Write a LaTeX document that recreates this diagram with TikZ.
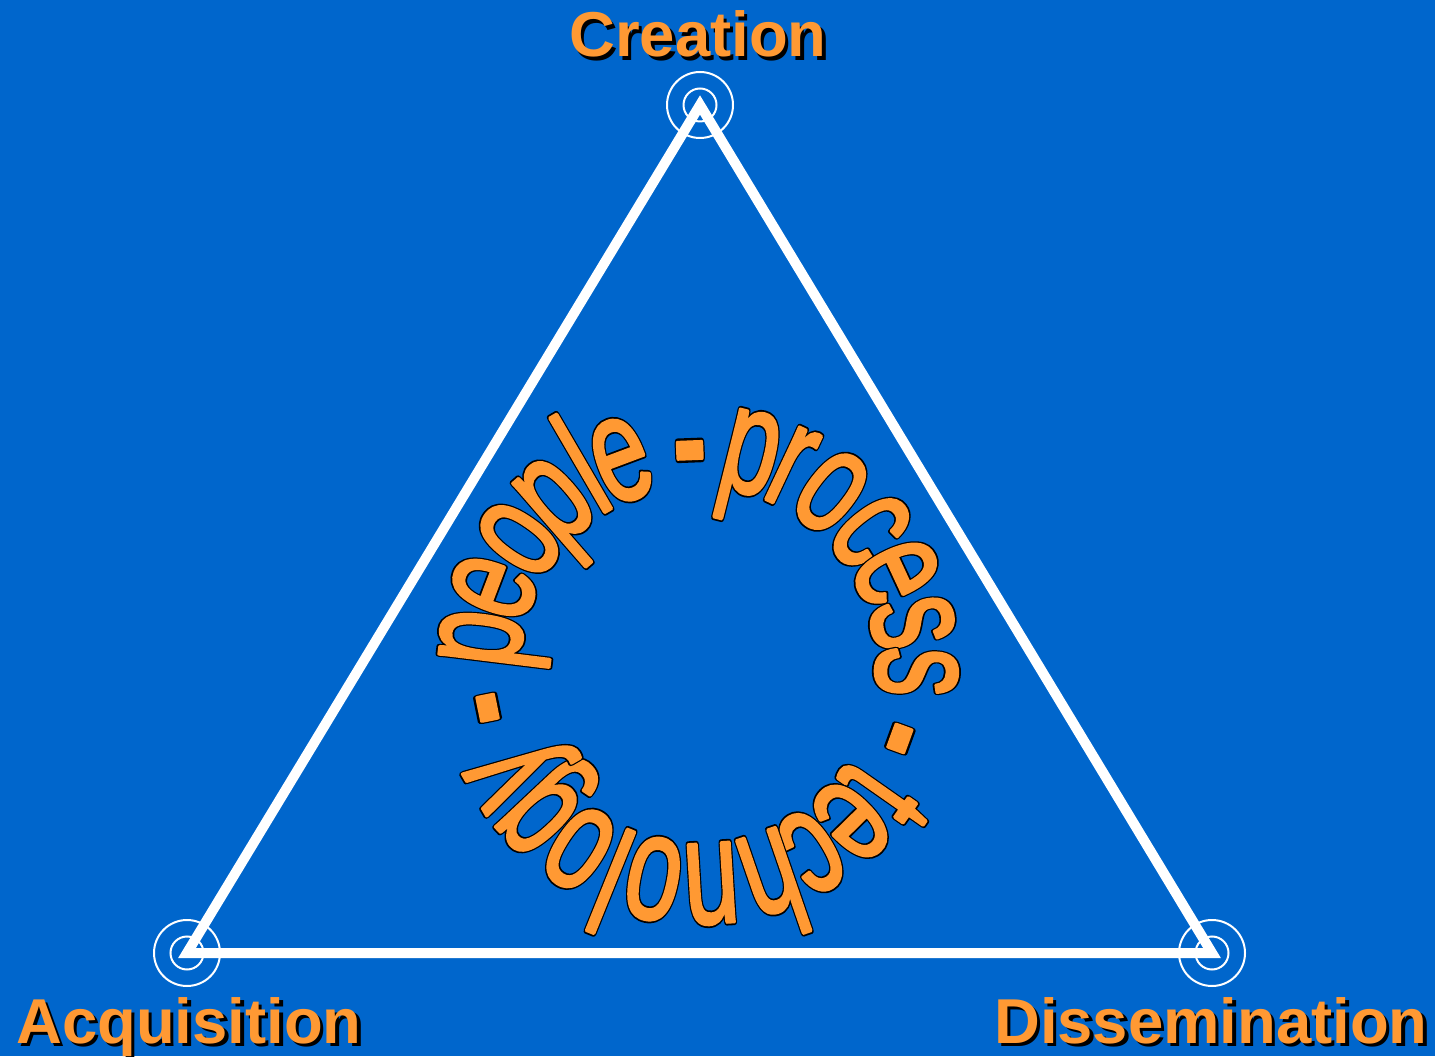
\documentclass[tikz,border=0pt]{standalone}
\usepackage{fontspec}
\setmainfont{Liberation Sans}
\newfontfamily\ringfont{Liberation Sans}
\usetikzlibrary{calc}
\definecolor{bgblue}{RGB}{0,102,204}
\definecolor{amber}{RGB}{255,153,51}
% glyph set twice: a fat black copy underneath, a slightly emboldened orange copy on top
\newcommand\outlined[1]{%
  \rlap{\color{black}\special{pdf:literal direct 2 Tr 3.6 w 1 j}#1}%
  {\color{amber}\special{pdf:literal direct 2 Tr 1.8 w 1 j}#1}%
  \special{pdf:literal direct 0 Tr}}
\begin{document}
\begin{tikzpicture}[x=0.5pt,y=0.5pt,
  ring/.style={circle, draw=white, line width=1pt, inner sep=0pt, minimum size=#1},
  edge/.style={draw=white, line width=5pt, line join=miter},
  corner label/.style={font=\fontsize{31.7}{31.7}\selectfont\bfseries, text=amber, inner sep=0pt},
  corner shadow/.style={font=\fontsize{31.7}{31.7}\selectfont\bfseries, text=black, inner sep=0pt},
  ring glyph/.style={font=\ringfont\fontsize{75}{75}\selectfont, text=amber, inner sep=0pt, anchor=base}]
% background
\fill[bgblue] (0,0) rectangle (1435,1056);
\useasboundingbox (0,0) rectangle (1435,1056);

% corners of the triangle
\node[ring=33pt] (C) at (700,951) {};
\node[ring=16.5pt] (Ci) at (700,951) {};
\node[ring=33pt] (A) at (187,103) {};
\node[ring=16.5pt] (Ai) at (187,103) {};
\node[ring=33pt] (D) at (1212,103) {};
\node[ring=16.5pt] (Di) at (1212,103) {};
\draw[edge] (C.center) -- (A.center) -- (D.center) -- cycle;

% corner labels with drop shadows
\node[corner shadow, anchor=base] at (701.5,995.5) {Creation};
\node[corner label, anchor=base] (creation) at (698,999) {Creation};
\node[corner shadow, anchor=base west] at (19.5,9.5) {Acquisition};
\node[corner label, anchor=base west] (acquisition) at (16,13) {Acquisition};
\node[corner shadow, anchor=base east] at (1431.5,9.5) {Dissemination};
\node[corner label, anchor=base east] (dissemination) at (1428,13) {Dissemination};

% ring of words round the centre
\coordinate (O) at (698,391);
\foreach \ch/\ang [count=\i] in {p/173, e/159.2, o/144.8, p/131, l/120.2, e/110.5,
    p/76, r/64.8, o/52.4, c/38, e/25, s/11.2, s/-1.8,
    t/-35, e/-45.5, c/-58.5, h/-71, n/-86.5, o/-101.7, l/-112, o/-122.8, g/-136.8, y/-149.8}
  \node[ring glyph, rotate=\ang-90, xscale=0.66] (g\i) at ($(O)+(\ang:179)$) {\outlined{\ch}};
\foreach \ang [count=\i] in {92.2, -20, -168.5}
  \node[ring glyph, rotate=\ang-90, xscale=0.68, yscale=1.3] (dash\i) at ($(O)+(\ang:163)$) {\outlined{-}};
\end{tikzpicture}
\end{document}
